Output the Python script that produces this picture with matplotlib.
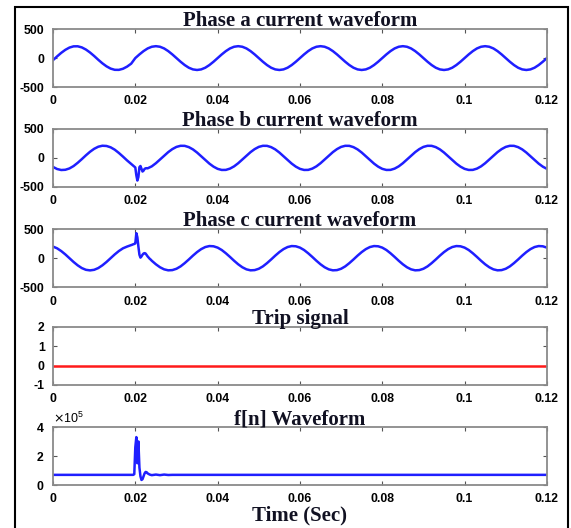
import numpy as np
import matplotlib
matplotlib.use("Agg")
import matplotlib.pyplot as plt
from matplotlib.patches import Rectangle

plt.rcParams["axes.unicode_minus"] = False

# sample times in ms
t_full = np.arange(0, 121)
t_pre = np.arange(0, 19)
t_fault = np.arange(19, 24.001, 0.25)
t_post = np.arange(25, 121)

# phase a current (A), 1 ms samples
ia = [-36, 29, 90, 142, 181, 202, 203, 184, 147, 96, 36, -29, -90, -142, -181, -202, -203, -184, -147, -96,
      0, 63, 120, 166, 195, 205, 195, 166, 120, 63, 0, -63, -120, -166, -195, -205, -195, -166, -120, -63,
      0, 63, 120, 166, 195, 205, 195, 166, 120, 63, 0, -63, -120, -166, -195, -205, -195, -166, -120, -63,
      0, 63, 120, 166, 195, 205, 195, 166, 120, 63, 0, -63, -120, -166, -195, -205, -195, -166, -120, -63,
      0, 63, 120, 166, 195, 205, 195, 166, 120, 63, 0, -63, -120, -166, -195, -205, -195, -166, -120, -63,
      0, 63, 120, 166, 195, 205, 195, 166, 120, 63, 0, -63, -120, -166, -195, -205, -195, -166, -120, -63,
      0]

# phase b current
ib_pre = [-156, -192, -209, -205, -182, -141, -85, -22, 44, 105, 156, 192, 209, 205, 182, 141, 85, 22, -44]
ib_fault = [-105, -120, -135, -150, -165, -300, -390, -330, -160, -140, -190, -235, -220,
            -190, -180, -178, -180, -172, -165, -156, -146]
ib_post = [-92, -29, 36, 99, 151, 189, 208, 207, 185, 146, 92, 29, -36, -99, -151, -189, -208, -207, -185, -146,
           -92, -29, 36, 99, 151, 189, 208, 207, 185, 146, 92, 29, -36, -99, -151, -189, -208, -207, -185, -146,
           -92, -29, 36, 99, 151, 189, 208, 207, 185, 146, 92, 29, -36, -99, -151, -189, -208, -207, -185, -146,
           -92, -29, 36, 99, 151, 189, 208, 207, 185, 146, 92, 29, -36, -99, -151, -189, -208, -207, -185, -146,
           -92, -29, 36, 99, 151, 189, 208, 207, 185, 146, 92, 29, -36, -99, -151, -189]

# phase c current
ic_pre = [200, 170, 123, 65, 0, -65, -123, -170, -200, -210, -200, -170, -123, -65, 0, 65, 123, 170, 200]
ic_fault = [225, 232, 240, 245, 255, 430, 360, 200, 60, 10, 30, 60, 80,
            88, 80, 55, 30, 10, -10, -25, -44]
ic_post = [-105, -156, -192, -209, -205, -182, -141, -85, -22, 44, 105, 156, 192, 209, 205, 182, 141, 85, 22, -44,
           -105, -156, -192, -209, -205, -182, -141, -85, -22, 44, 105, 156, 192, 209, 205, 182, 141, 85, 22, -44,
           -105, -156, -192, -209, -205, -182, -141, -85, -22, 44, 105, 156, 192, 209, 205, 182, 141, 85, 22, -44,
           -105, -156, -192, -209, -205, -182, -141, -85, -22, 44, 105, 156, 192, 209, 205, 182, 141, 85, 22, -44,
           -105, -156, -192, -209, -205, -182, -141, -85, -22, 44, 105, 156, 192, 209, 205, 182]

# trip signal
trip_t = [0, 120]
trip = [0, 0]

# f[n] (x1e5)
fn_t = [0, 19.5, 19.75, 20.0, 20.25, 20.5, 20.75, 21.0, 21.25, 21.5, 21.75, 22.0, 22.25,
        22.5, 22.75, 23.0, 23.5, 24.0, 25.0, 26.0, 27.0, 28.0, 29.0, 120]
fn = [0.7, 0.7, 0.75, 2.6, 3.3, 1.5, 3.0, 1.2, 0.6, 0.35, 0.4, 0.6, 0.8,
      0.9, 0.88, 0.8, 0.72, 0.68, 0.72, 0.68, 0.72, 0.69, 0.7, 0.7]

titles = ["Phase a current waveform", "Phase b current waveform", "Phase c current waveform",
          "Trip signal", "f[n] Waveform"]
xticks = [0, 0.02, 0.04, 0.06, 0.08, 0.1, 0.12]
xticklabels = ["0", "0.02", "0.04", "0.06", "0.08", "0.1", "0.12"]

t_b = np.concatenate([t_pre, t_fault, t_post]) / 1000
series = [
    (t_full / 1000, np.array(ia), "#1f1fff"),
    (t_b, np.array(ib_pre + ib_fault + ib_post), "#1f1fff"),
    (t_b, np.array(ic_pre + ic_fault + ic_post), "#1f1fff"),
    (np.array(trip_t) / 1000, np.array(trip), "#ff1a1a"),
    (np.array(fn_t) / 1000, np.array(fn) * 1e5, "#1f1fff"),
]

fig = plt.figure(figsize=(5.71, 5.28), dpi=100)
fig.patches.append(Rectangle((0.026, -0.02), 0.969, 1.007, transform=fig.transFigure,
                             fill=False, edgecolor="black", linewidth=1.5))

bottoms = [0.835, 0.646, 0.456, 0.271, 0.0814]
tick_font = {"family": "Liberation Sans", "weight": "bold", "size": 8.8}
title_font = {"family": "Liberation Serif", "weight": "bold", "size": 15}

for i, (x, y, col) in enumerate(series):
    ax = fig.add_axes([0.0928, bottoms[i], 0.865, 0.110])
    ax.plot(x, y, color=col, linewidth=1.8)
    ax.set_xlim(0, 0.12)
    ax.set_xticks(xticks)
    ax.set_xticklabels(xticklabels)
    if i < 3:
        ax.set_ylim(-500, 500)
        ax.set_yticks([-500, 0, 500])
    elif i == 3:
        ax.set_ylim(-1, 2)
        ax.set_yticks([-1, 0, 1, 2])
    else:
        ax.set_ylim(0, 4e5)
        ax.set_yticks([0, 2e5, 4e5])
        ax.ticklabel_format(axis="y", style="sci", scilimits=(0, 0), useMathText=True)
        ax.yaxis.get_offset_text().set_fontsize(9)
        ax.yaxis.get_offset_text().set_family("Liberation Sans")
    for sp in ax.spines.values():
        sp.set_color("#8a8a8a")
        sp.set_linewidth(1.3)
    ax.tick_params(direction="in", top=True, right=True, length=3, color="#555555",
                   pad=6)
    for lab in ax.get_xticklabels() + ax.get_yticklabels():
        lab.set_fontproperties(matplotlib.font_manager.FontProperties(**tick_font))
    ax.set_title(titles[i], pad=2, color="#111122", **title_font)

fig.text(0.525, 0.024, "Time (Sec)", ha="center", va="center", color="#111122", **title_font)

fig.savefig("out.png", dpi=100)
